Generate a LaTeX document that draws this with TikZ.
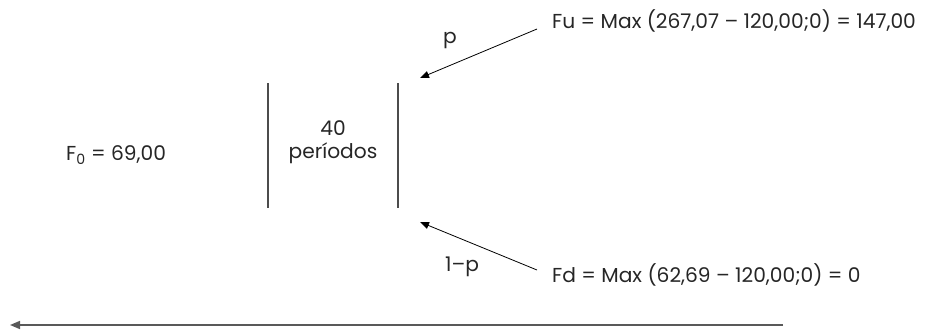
\documentclass[tikz,border=0pt]{standalone}
\usepackage{fontspec}
\setmainfont{Poppins}
\usetikzlibrary{arrows.meta}
\begin{document}
\begin{tikzpicture}[x=1pt,y=-1pt,
  lbl/.style={inner sep=0pt, font=\fontsize{20.2}{23}\selectfont, text=black!85},
  bar/.style={draw=black!70, line width=1.3pt},
  arr/.style={draw=black, line width=0.8pt, -{Triangle[length=9pt,width=7pt]}},
  axis/.style={draw=black!65, line width=1.6pt, -{Triangle[length=10pt,width=8pt]}}]
\useasboundingbox (0,0) rectangle (925,330);
\node[lbl, anchor=west] (f0) at (66,155) {F\textsubscript{0} = 69,00};
\coordinate (l1) at (268,83); \coordinate (l2) at (268,208);
\coordinate (r1) at (398,83); \coordinate (r2) at (398,208);
\draw[bar] (l1) -- (l2);
\draw[bar] (r1) -- (r2);
\node[lbl, align=center] (per) at (333,142) {40\\períodos};
\node[lbl, anchor=west] (fu) at (552,21) {Fu = Max (267,07 – 120,00;0) = 147,00};
\node[lbl, anchor=west] (fd) at (552,275) {Fd = Max (62,69 – 120,00;0) = 0};
\coordinate (us) at (537,29); \coordinate (ut) at (420,78);
\coordinate (ds) at (537,270); \coordinate (dt) at (420,222);
\draw[arr] (us) -- (ut);
\draw[arr] (ds) -- (dt);
\node[lbl] (p) at (450,40) {p};
\node[lbl] (q) at (462,267) {1–p};
\coordinate (ae) at (783,325); \coordinate (as) at (10,325);
\draw[axis] (ae) -- (as);
\end{tikzpicture}
\end{document}
